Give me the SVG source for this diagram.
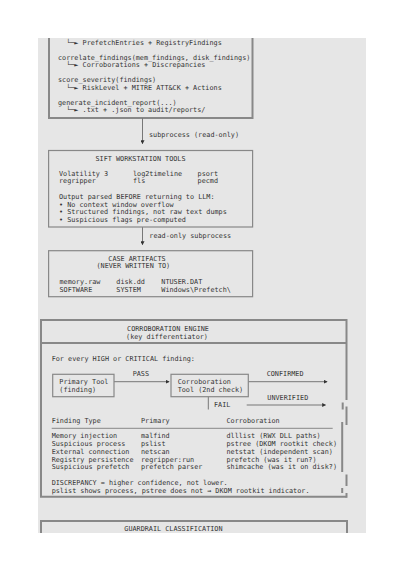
<svg xmlns="http://www.w3.org/2000/svg" width="405" height="573" viewBox="0 0 405 573">
<style>
text{font-family:"DejaVu Sans Mono","Liberation Mono",monospace;font-size:6.8px;fill:#333}
.box{fill:none;stroke:#888;stroke-width:1.2}
.tbox{fill:none;stroke:#888;stroke-width:2}
.ln{stroke:#777;stroke-width:1;fill:none}
.sep{stroke:#888;stroke-width:1;fill:none}
</style>
<defs>
<marker id="ah" viewBox="0 0 6 6" refX="5" refY="3" markerWidth="4" markerHeight="4" orient="auto" markerUnits="userSpaceOnUse">
<path d="M0,0 L6,3 L0,6 z" fill="#333"/>
</marker>
<clipPath id="pg"><rect x="38" y="38" width="328" height="495"/></clipPath>
</defs>
<rect x="0" y="0" width="405" height="573" fill="#fff"/>
<rect x="38" y="38" width="328" height="495" fill="#e6e6e6"/>
<g clip-path="url(#pg)">
<g id="agent-tools">
<rect class="tbox" x="49" y="10" width="203.5" height="108"/>
<text x="66.2" y="44.8">└─►</text><text x="82.6" y="44.8">PrefetchEntries + RegistryFindings</text>
<text x="58" y="59.5">correlate_findings(mem_findings, disk_findings)</text>
<text x="66.2" y="67">└─►</text><text x="82.6" y="67">Corroborations + Discrepancies</text>
<text x="58" y="82">score_severity(findings)</text>
<text x="66.2" y="89.5">└─►</text><text x="82.6" y="89.5">RiskLevel + MITRE ATT&amp;CK + Actions</text>
<text x="58" y="104.5">generate_incident_report(...)</text>
<text x="66.2" y="112">└─►</text><text x="82.6" y="112">.txt + .json to audit/reports/</text>
</g>
<g id="connectors">
<line class="ln" x1="142.5" y1="118" x2="142.5" y2="143.5" marker-end="url(#ah)"/>
<text x="149" y="136.5">subprocess (read-only)</text>
<line class="ln" x1="142.5" y1="227" x2="142.5" y2="244.5" marker-end="url(#ah)"/>
<text x="149.3" y="237.5">read-only subprocess</text>
<line class="ln" x1="114" y1="381.7" x2="169" y2="381.7" marker-end="url(#ah)"/>
<text x="132.7" y="376.3">PASS</text>
<line class="ln" x1="248.3" y1="381.7" x2="327" y2="381.7" marker-end="url(#ah)"/>
<text x="266.7" y="376.3">CONFIRMED</text>
<line class="ln" x1="208.3" y1="396.7" x2="208.3" y2="409.5"/>
<text x="214" y="407.3">FAIL</text>
<line class="ln" x1="246.7" y1="405" x2="325.5" y2="405" marker-end="url(#ah)"/>
<text x="267.3" y="399.6">UNVERIFIED</text>
</g>
<g id="sift-tools">
<rect class="box" x="48.6" y="150.5" width="204" height="76.5"/>
<text x="95.5" y="161">SIFT WORKSTATION TOOLS</text>
<text x="59" y="175.5">Volatility 3</text><text x="133" y="175.5">log2timeline</text><text x="197.6" y="175.5">psort</text>
<text x="59" y="183">regripper</text><text x="133" y="183">fls</text><text x="197.6" y="183">pecmd</text>
<text x="59" y="199">Output parsed BEFORE returning to LLM:</text>
<text x="59" y="206.5">• No context window overflow</text>
<text x="59" y="214">• Structured findings, not raw text dumps</text>
<text x="59" y="221.5">• Suspicious flags pre-computed</text>
</g>
<g id="case-artifacts">
<rect class="box" x="48.6" y="250.7" width="204" height="46"/>
<text x="108.3" y="260.6">CASE ARTIFACTS</text>
<text x="96.5" y="268">(NEVER WRITTEN TO)</text>
<text x="59.5" y="284">memory.raw</text><text x="116.3" y="284">disk.dd</text><text x="161.3" y="284">NTUSER.DAT</text>
<text x="59.5" y="291.5">SOFTWARE</text><text x="116.3" y="291.5">SYSTEM</text><text x="161.3" y="291.5">Windows\Prefetch\</text>
</g>
<g id="corroboration-engine">
<path class="tbox" d="M346.5,320 H41 V496.8 H346.5"/>
<line class="tbox" x1="41" y1="343" x2="346.5" y2="343"/>
<path class="tbox" d="M346.5,319 V400 M342.7,402.5 V409.5 M346.5,406.5 V425 M342.2,422 V472 M346.5,474.5 V486 M342.2,488 V493 M346.5,493 V497.8"/>
<text x="168" y="330.6" text-anchor="middle">CORROBORATION ENGINE</text>
<text x="167" y="339" text-anchor="middle">(key differentiator)</text>
<text x="51.7" y="360.6">For every HIGH or CRITICAL finding:</text>
<g id="primary-tool">
<rect class="box" x="52.7" y="374.3" width="61.3" height="22.4"/>
<text x="59.3" y="384">Primary Tool</text>
<text x="59.3" y="391.5">(finding)</text>
</g>
<g id="corroboration-tool">
<rect class="box" x="171" y="374.3" width="77.3" height="22.4"/>
<text x="177.7" y="384">Corroboration</text>
<text x="177.7" y="391.5">Tool (2nd check)</text>
</g>
<text x="51.7" y="423">Finding Type</text><text x="141" y="423">Primary</text><text x="226.5" y="423">Corroboration</text>
<line class="sep" x1="51.7" y1="428.3" x2="332.7" y2="428.3"/>
<text x="51.7" y="438.3">Memory injection</text><text x="141" y="438.3">malfind</text><text x="226.5" y="438.3">dlllist (RWX DLL paths)</text>
<text x="51.7" y="446.1">Suspicious process</text><text x="141" y="446.1">pslist</text><text x="226.5" y="446.1">pstree (DKOM rootkit check)</text>
<text x="51.7" y="453.9">External connection</text><text x="141" y="453.9">netscan</text><text x="226.5" y="453.9">netstat (independent scan)</text>
<text x="51.7" y="461.6">Registry persistence</text><text x="141" y="461.6">regripper:run</text><text x="226.5" y="461.6">prefetch (was it run?)</text>
<text x="51.7" y="469.4">Suspicious prefetch</text><text x="141" y="469.4">prefetch parser</text><text x="226.5" y="469.4">shimcache (was it on disk?)</text>
<text x="51.7" y="484.6">DISCREPANCY = higher confidence, not lower.</text>
<text x="51.7" y="493">pslist shows process, pstree does not → DKOM rootkit indicator.</text>
</g>
<g id="guardrail-classification">
<rect class="tbox" x="41" y="521" width="306" height="40"/>
<text x="124.3" y="530.6">GUARDRAIL CLASSIFICATION</text>
</g>
</g>
</svg>
